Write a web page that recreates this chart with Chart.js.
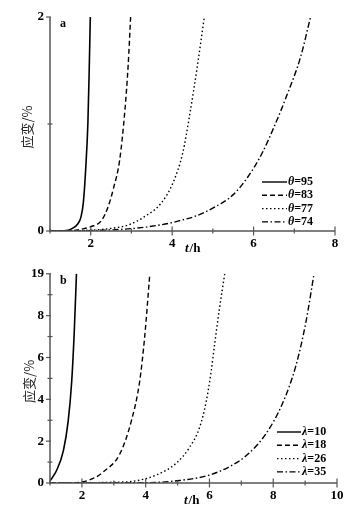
<!DOCTYPE html>
<html><head><meta charset="utf-8">
<script src="https://cdn.jsdelivr.net/npm/chart.js@4.4.0/dist/chart.umd.min.js"></script>
<style>
html,body{margin:0;padding:0;background:#fff;}
canvas{display:block;}
</style></head>
<body>
<canvas id="ca" width="360" height="260"></canvas>
<canvas id="cb" width="360" height="263"></canvas>
<script>
// ---------- Panel a data (t/h, strain %) ----------
const aT95 = [1.0,1.4,1.55,1.68,1.76,1.82,1.88,1.93,1.96,1.99];
const aY95 = [0,0.005,0.025,0.065,0.13,0.27,0.6,1.0,1.45,2.0];
const aT83 = [1.0,1.5,1.8,2.0,2.27,2.43,2.56,2.71,2.84,2.92,2.98];
const aY83 = [0,0.003,0.02,0.04,0.1,0.23,0.4,0.66,1.13,1.55,2.0];
const aT77 = [1.0,2.0,2.51,2.92,3.32,3.73,4.02,4.26,4.42,4.63,4.79];
const aY77 = [0,0.008,0.025,0.056,0.134,0.26,0.45,0.73,1.06,1.57,2.0];
const aT74 = [1.0,2.0,3.08,3.9,4.22,4.54,5.03,5.5,5.85,6.2,6.5,6.82,7.15,7.4];
const aY74 = [0,0.004,0.025,0.07,0.1,0.134,0.22,0.34,0.5,0.72,0.97,1.27,1.62,2.0];
const aLabels = ['95','83','77','74'];
const aXTicks = [2,4,6,8];
const aYTickValues = [0,2];
const aYTickText = ['0','2'];

// ---------- Panel b data ----------
const bT10 = [1.0,1.21,1.42,1.57,1.68,1.76,1.83];
const bY10 = [0.1,0.61,1.55,2.96,4.84,7.2,10];
const bT18 = [1.0,1.5,2.04,2.4,2.67,3.19,3.55,3.81,3.97,4.13];
const bY18 = [0,0.005,0.06,0.25,0.53,1.39,2.96,4.84,7.0,10];
const bT26 = [1.0,2.0,3.08,3.6,4.33,4.96,5.375,5.69,5.9,6.05,6.16,6.31,6.48];
const bY26 = [0,0.01,0.04,0.08,0.38,0.95,1.7,2.65,3.9,5.3,6.6,8.3,10];
const bT35 = [1.0,2.0,3.0,4.13,5.06,6.0,6.625,7.15,7.77,8.29,8.71,9.02,9.28];
const bY35 = [0,0.003,0.01,0.02,0.12,0.38,0.78,1.3,2.35,3.8,5.6,7.65,10];
const bLabels = ['10','18','26','35'];
const bXTicks = [2,4,6,8,10];
const bYTickValues = [0,2,4,6,8,10];
const bYTickText = ['0','2','4','6','8','19'];

const dashes = [[], [5,3], [1.5,2.5], [6,2.5,1.5,2.5]];
const AXIS = '#555';
const SERIF = '"Liberation Serif","DejaVu Serif",serif';

function pts(t, y){ return t.map((v,i)=>({x:v,y:y[i]})); }

function makeDatasets(series, labels){
  return series.map((s,i)=>({
    label: labels[i],
    data: pts(s[0], s[1]),
    borderColor:'#000',
    borderWidth: i===0 ? 1.6 : 1.4,
    borderDash: dashes[i],
    pointRadius:0,
    fill:false,
    cubicInterpolationMode:'monotone'
  }));
}

const tickPlugin = {
  id:'tickMarks',
  afterDraw(chart, args, opts){
    const ctx = chart.ctx;
    const xs = chart.scales.x, ys = chart.scales.y;
    const ca = chart.chartArea;
    ctx.save();
    ctx.strokeStyle = AXIS;
    ctx.lineWidth = 1.5;
    ctx.beginPath();
    ctx.moveTo(ca.left, ca.top); ctx.lineTo(ca.left, ca.bottom); ctx.lineTo(ca.right, ca.bottom);
    ctx.stroke();
    ctx.lineWidth = 1.2;
    xs.ticks.forEach((t)=>{
      const px = xs.getPixelForValue(t.value);
      const major = opts.xMajor.includes(t.value);
      const l = major ? 4.5 : 2.5;
      ctx.beginPath(); ctx.moveTo(px, ca.bottom-l); ctx.lineTo(px, ca.bottom+l); ctx.stroke();
    });
    ys.ticks.forEach((t)=>{
      const py = ys.getPixelForValue(t.value);
      const major = opts.yMajor.includes(t.value);
      const l = major ? 4 : 2.5;
      ctx.beginPath(); ctx.moveTo(ca.left-l, py); ctx.lineTo(ca.left+(major?1:l), py); ctx.stroke();
    });
    ctx.fillStyle = '#000';
    ctx.font = 'bold 12px ' + SERIF;
    ctx.textBaseline = 'middle';
    ctx.textAlign = 'left';
    ctx.fillText(opts.letter, ca.left+10, ca.top+opts.letterDy);
    ctx.save();
    ctx.translate(opts.yTitleX, (ca.top+ca.bottom)/2 + 3);
    ctx.rotate(-Math.PI/2);
    ctx.textAlign='center';
    ctx.font = '13px "Noto Sans CJK SC"';
    ctx.fillStyle='#222';
    ctx.fillText('应变/%', 0, 0);
    ctx.restore();
    ctx.textAlign='left';
    ctx.font = 'italic bold 13px ' + SERIF;
    const tx = opts.xTitleX, ty = opts.xTitleY;
    ctx.fillText('t', tx, ty);
    const w1 = ctx.measureText('t').width;
    ctx.font = 'bold 13px ' + SERIF;
    ctx.fillText('/h', tx + w1 + 1, ty);
    chart.data.datasets.forEach((d,i)=>{
      const y = opts.legY + i*opts.legDy;
      ctx.save();
      ctx.strokeStyle = '#000';
      ctx.lineWidth = 1.4;
      ctx.setLineDash(d.borderDash);
      ctx.beginPath(); ctx.moveTo(opts.legX1, y); ctx.lineTo(opts.legX2, y); ctx.stroke();
      ctx.restore();
      let x = opts.legX2 + 1;
      ctx.font = 'italic bold 12px ' + SERIF;
      ctx.fillText(opts.sym, x, y);
      x += ctx.measureText(opts.sym).width;
      ctx.font = 'bold 12px ' + SERIF;
      ctx.fillText('=' + d.label, x, y);
    });
    ctx.restore();
  }
};

function makeChart(id, datasets, cfg){
  return new Chart(document.getElementById(id), {
    type:'line',
    data:{datasets},
    plugins:[tickPlugin],
    options:{
      responsive:false,
      animation:false,
      events:[],
      layout:{padding:{top:cfg.padTop, right:cfg.padRight, left:0, bottom:0}},
      plugins:{legend:{display:false}, tooltip:{enabled:false},
        tickMarks:cfg.marks},
      scales:{
        x:{type:'linear', min:1, max:cfg.xMax,
          afterFit(s){ s.height = cfg.xH; },
          grid:{display:false, drawTicks:false}, border:{display:false},
          ticks:{stepSize:1, autoSkip:false, maxRotation:0, padding:5, color:'#000',
            font:{family:SERIF, size:13, weight:'bold'},
            callback:(v)=> cfg.xTicks.includes(v) ? String(v) : ''}
        },
        y:{type:'linear', min:0, max:cfg.yMax,
          afterFit(s){ s.width = 50; },
          grid:{display:false, drawTicks:false}, border:{display:false},
          ticks:{stepSize:1, autoSkip:false, padding:6, color:'#000',
            font:{family:SERIF, size:13, weight:'bold'},
            callback:(v)=>{ const k = cfg.yVals.indexOf(v); return k>=0 ? cfg.yText[k] : ''; }}
        }
      }
    }
  });
}

makeChart('ca', makeDatasets([[aT95,aY95],[aT83,aY83],[aT77,aY77],[aT74,aY74]], aLabels), {
  padTop:17, padRight:25, xH:29, xMax:8, yMax:2,
  xTicks:aXTicks, yVals:aYTickValues, yText:aYTickText,
  marks:{xMajor:aXTicks, yMajor:aYTickValues, letter:'a', letterDy:7, yTitleX:27,
    xTitleX:185, xTitleY:249, legX1:262, legX2:287, legY:182, legDy:13.3, sym:'θ'}
});

makeChart('cb', makeDatasets([[bT10,bY10],[bT18,bY18],[bT26,bY26],[bT35,bY35]], bLabels), {
  padTop:10, padRight:23, xH:40, xMax:10, yMax:10,
  xTicks:bXTicks, yVals:bYTickValues, yText:bYTickText,
  marks:{xMajor:bXTicks, yMajor:bYTickValues, letter:'b', letterDy:7, yTitleX:29,
    xTitleX:184, xTitleY:241, legX1:277, legX2:301, legY:172, legDy:13.3, sym:'λ'}
});
</script>
</body></html>
